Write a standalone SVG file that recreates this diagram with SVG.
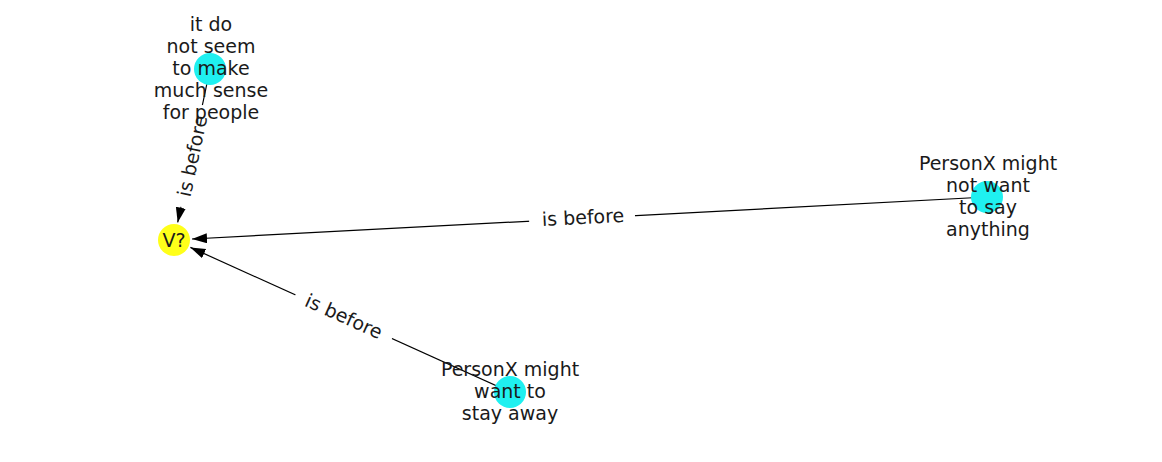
<svg xmlns="http://www.w3.org/2000/svg" width="1162" height="462" viewBox="0 0 1162 462">
<style>
.edge{stroke:#000;stroke-width:1.2;fill:none}
.t{font-family:"DejaVu Sans",sans-serif;font-size:19px;fill:#1a1a1a;text-anchor:middle}
.lbg{fill:#fff}
.cy{fill:#1ff0f0}
.ye{fill:#ffff1a}
</style>
<defs>
<marker id="ah" markerUnits="userSpaceOnUse" markerWidth="16" markerHeight="12" refX="15" refY="5" orient="auto">
<path d="M0,0 L15,5 L0,10 z" fill="#000"/>
</marker>
</defs>
<rect width="1162" height="462" fill="#fff"/>
<g id="connectors">
<line class="edge" x1="210" y1="69" x2="177.7" y2="222.4" marker-end="url(#ah)"/>
<line class="edge" x1="987" y1="197" x2="192" y2="239" marker-end="url(#ah)"/>
<line class="edge" x1="510" y1="392" x2="190.4" y2="247.4" marker-end="url(#ah)"/>
<g transform="translate(192,156) rotate(-78)">
<rect class="lbg" x="-52" y="-14" width="104" height="28"/>
<text class="t" x="0" y="7">is before</text>
</g>
<g transform="translate(582,217) rotate(-3)">
<rect class="lbg" x="-53" y="-14" width="106" height="28"/>
<text class="t" x="1" y="7">is before</text>
</g>
<g transform="translate(344,316) rotate(24.3)">
<rect class="lbg" x="-53" y="-14" width="106" height="28"/>
<text class="t" x="0" y="7">is before</text>
</g>
</g>
<g id="n_v">
<circle class="ye" cx="174" cy="240" r="16"/>
<text class="t" x="174" y="247">V?</text>
</g>
<g id="n_sense">
<circle class="cy" cx="210" cy="69" r="16"/>
<text class="t" x="211" y="31">it do</text>
<text class="t" x="211" y="53">not seem</text>
<text class="t" x="211" y="75">to make</text>
<text class="t" x="211" y="97">much sense</text>
<text class="t" x="211" y="119">for people</text>
</g>
<g id="n_say">
<circle class="cy" cx="987" cy="197" r="16"/>
<text class="t" x="988" y="170">PersonX might</text>
<text class="t" x="988" y="192">not want</text>
<text class="t" x="988" y="214">to say</text>
<text class="t" x="988" y="236">anything</text>
</g>
<g id="n_away">
<circle class="cy" cx="510" cy="392" r="16"/>
<text class="t" x="510" y="376">PersonX might</text>
<text class="t" x="510" y="398">want to</text>
<text class="t" x="510" y="420">stay away</text>
</g>
</svg>
